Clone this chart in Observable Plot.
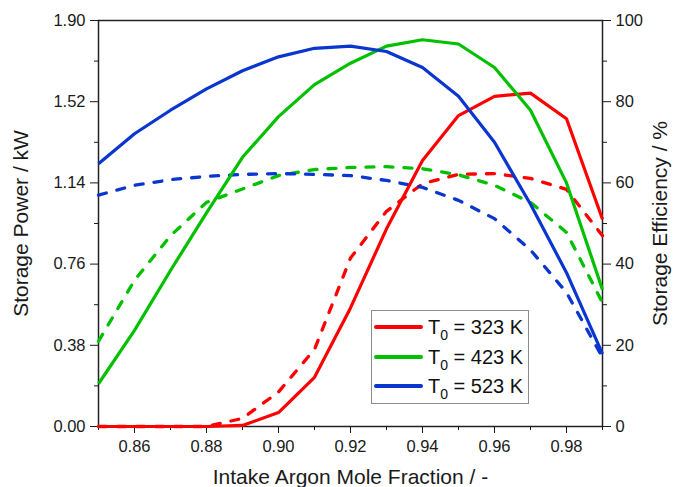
<!DOCTYPE html>
<html><head><meta charset="utf-8">
<script src="https://cdn.jsdelivr.net/npm/d3@7"></script>
<script src="https://cdn.jsdelivr.net/npm/@observablehq/plot@0.6"></script>
<style>
body{margin:0;background:#fff;font-family:"Liberation Sans",Arial,sans-serif;}
#wrap{position:relative;width:673px;height:487px;overflow:hidden;}
#legend{position:absolute;left:371px;top:310px;width:156px;height:92px;border:1px solid #8c8c8c;background:#fff;}
.row{position:absolute;left:2px;height:28px;display:flex;align-items:center;}
.sw{width:49px;height:4px;border-radius:2px;margin-right:5px;}
.lab{font-size:20px;color:#111;white-space:nowrap;line-height:20px;}
.lab sub{font-size:14px;vertical-align:-6px;line-height:0;}
</style></head><body><div id="wrap"></div>
<script>
// ---- data ----
const fraction = [0.85,0.86,0.87,0.88,0.89,0.90,0.91,0.92,0.93,0.94,0.95,0.96,0.97,0.98,0.99];
const temperatures = [323, 423, 523];
const seriesColors = ["#ff0000", "#00c000", "#0a36d0"];
// storage power, kW (left axis, solid)
const power323 = [0,0,0,0,0.005,0.065,0.23,0.555,0.925,1.245,1.455,1.545,1.56,1.44,0.97];
const power423 = [0.20,0.45,0.73,1.00,1.26,1.45,1.60,1.70,1.78,1.81,1.79,1.68,1.48,1.14,0.64];
const power523 = [1.23,1.37,1.48,1.58,1.665,1.73,1.77,1.78,1.755,1.68,1.545,1.33,1.04,0.72,0.34];
// storage efficiency, % (right axis, dashed)
const eff323 = [0,0,0,0,2,8.5,19,41.5,53,59.8,62.1,62.3,61.1,58.4,47];
const eff423 = [21,36,47,55.2,58.5,61.8,63.3,63.8,64,63.5,62,59.4,55.2,47.8,30.5];
const eff523 = [57,59.4,60.8,61.6,62.1,62.3,62.1,61.8,60.6,58.9,55.7,51.2,43.5,33,17];
// axis ticks
const xTicks = [0.86,0.88,0.90,0.92,0.94,0.96,0.98];
const xMinorTicks = [0.85,0.87,0.89,0.91,0.93,0.95,0.97,0.99];
const powerTicks = [0,0.38,0.76,1.14,1.52,1.90];
const powerMinorTicks = [0.19,0.57,0.95,1.33,1.71];
const effTicks = [0,20,40,60,80,100];
const effMinorTicks = [10,30,50,70,90];
const xTitle = "Intake Argon Mole Fraction / -";
const yTitle = "Storage Power / kW";
const y2Title = "Storage Efficiency / %";

// ---- build ----
const powerMax = 1.90, effMax = 100;
const toPower = e => e * powerMax / effMax;
const labels = temperatures.map(t => `T0 = ${t} K`);
const powers = [power323, power423, power523];
const effs = [eff323, eff423, eff523];
const rows = [];
labels.forEach((s, i) => fraction.forEach((x, j) => rows.push({series: s, x, power: powers[i][j], eff: effs[i][j]})));

const font = {fontSize: 16.5};
const chart = Plot.plot({
  width: 673, height: 487,
  marginLeft: 98, marginRight: 71, marginTop: 20, marginBottom: 61,
  style: {fontFamily: '"Liberation Sans", Arial, sans-serif', color: "#1a1a1a", background: "#fff"},
  x: {domain: [0.85, 0.99]},
  y: {domain: [0, powerMax]},
  color: {domain: labels, range: seriesColors},
  marks: [
    Plot.frame({stroke: "#222", strokeWidth: 1.5}),
    Plot.axisX(xTicks, {tickSize: 7, tickPadding: 7, tickFormat: d3.format(".2f"), label: null, ...font}),
    Plot.axisX(xMinorTicks, {tickSize: 4, tickFormat: () => "", label: null}),
    Plot.axisY(powerTicks, {anchor: "left", tickSize: 8, tickPadding: 5, tickFormat: d3.format(".2f"), label: null, ...font}),
    Plot.axisY(powerMinorTicks, {anchor: "left", tickSize: 4, tickFormat: () => "", label: null}),
    Plot.axisY(effTicks.map(toPower), {anchor: "right", tickSize: 8, tickPadding: 5, tickFormat: d => String(Math.round(d * effMax / powerMax)), label: null, ...font}),
    Plot.axisY(effMinorTicks.map(toPower), {anchor: "right", tickSize: 4, tickFormat: () => "", label: null}),
    Plot.line(rows, {x: "x", y: d => toPower(d.eff), z: "series", stroke: "series", strokeWidth: 3.3, strokeDasharray: "8,11", strokeLinecap: "round", strokeLinejoin: "round"}),
    Plot.line(rows, {x: "x", y: "power", z: "series", stroke: "series", strokeWidth: 3.2, strokeLinejoin: "miter", strokeLinecap: "butt"}),
    Plot.text([xTitle], {text: d => d, frameAnchor: "bottom", textAnchor: "middle", lineAnchor: "middle", dy: 51, fontSize: 21}),
    Plot.text([yTitle], {text: d => d, frameAnchor: "left", textAnchor: "middle", lineAnchor: "middle", dx: -77, rotate: -90, fontSize: 21}),
    Plot.text([y2Title], {text: d => d, frameAnchor: "right", textAnchor: "middle", lineAnchor: "middle", dx: 58, rotate: -90, fontSize: 21})
  ]
});
const wrap = document.getElementById("wrap");
wrap.appendChild(chart);

// legend (HTML overlay inside the plot area)
const legend = document.createElement("div");
legend.id = "legend";
temperatures.forEach((t, i) => {
  const row = document.createElement("div");
  row.className = "row";
  row.style.top = (2 + i * 29.5) + "px";
  const sw = document.createElement("div");
  sw.className = "sw";
  sw.style.background = seriesColors[i];
  const lab = document.createElement("span");
  lab.className = "lab";
  lab.innerHTML = `T<sub>0</sub> = ${t} K`;
  row.appendChild(sw); row.appendChild(lab);
  legend.appendChild(row);
});
wrap.appendChild(legend);
</script>
</body></html>
